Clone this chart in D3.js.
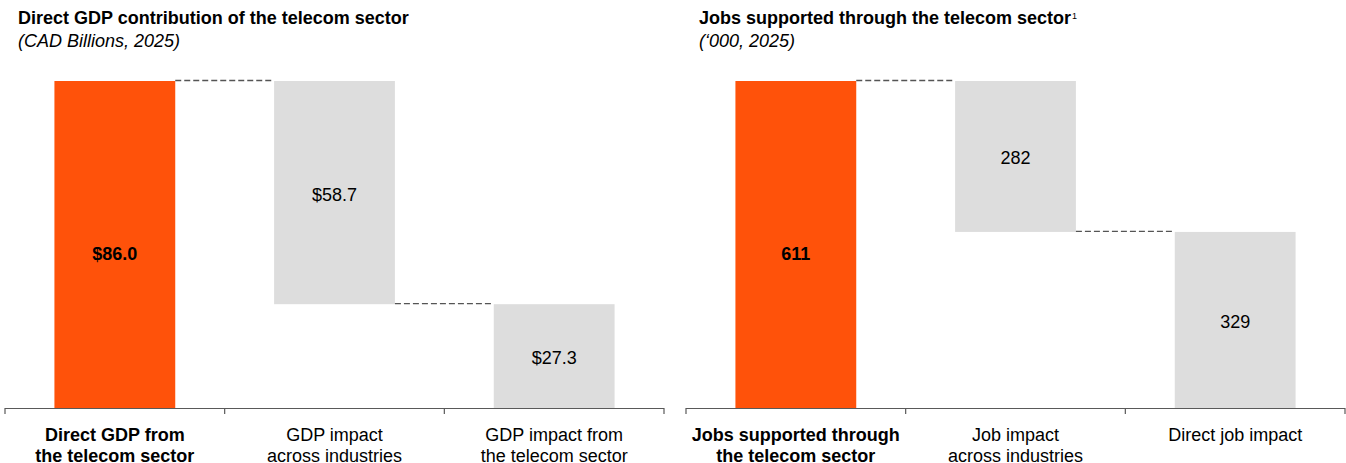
<!DOCTYPE html>
<html><head><meta charset="utf-8">
<script src="https://cdn.jsdelivr.net/npm/d3@7"></script>
<style>
body{margin:0;background:#fff;}
svg{font-family:"Liberation Sans",Arial,sans-serif;}
</style></head>
<body><svg id="c" width="1346" height="463"></svg>
<script>
const gdpCategories = [["Direct GDP from","the telecom sector"],["GDP impact","across industries"],["GDP impact from","the telecom sector"]];
const gdpValues = [86.0, 58.7, 27.3];
const gdpLabels = ["$86.0","$58.7","$27.3"];
const jobCategories = [["Jobs supported through","the telecom sector"],["Job impact","across industries"],["Direct job impact"]];
const jobValues = [611, 282, 329];
const jobLabels = ["611","282","329"];

const svg = d3.select("#c");
const ORANGE = "#ff520a", GRAY = "#dddddd";

function drawChart(x0, x1, title, sup, subtitle, cats, vals, labels){
  const g = svg.append("g");
  const t = g.append("text").attr("x", x0+13).attr("y", 24).attr("font-size", 18).attr("font-weight","bold").attr("fill","#000").text(title);
  if (sup) t.append("tspan").attr("font-size", 9).attr("dx",1).attr("dy",-5).attr("font-weight","normal").text(sup);
  g.append("text").attr("x", x0+13).attr("y", 47).attr("font-size", 18).attr("font-style","italic").attr("fill","#000").text(subtitle);

  const total = vals[0];
  const x = d3.scaleBand().domain(d3.range(vals.length)).range([x0, x1]).paddingInner(0.45).paddingOuter(0.225);
  const y = d3.scaleLinear().domain([0, total]).range([408, 81]);
  const segs = [];
  let run = total;
  vals.forEach((v,i)=>{
    if(i===0){ segs.push({i, lo:0, hi:v}); }
    else { segs.push({i, lo:run-v, hi:run}); run -= v; }
  });
  g.selectAll("rect.bar").data(segs).join("rect")
    .attr("x", d=>x(d.i)).attr("width", x.bandwidth())
    .attr("y", d=>y(d.hi)).attr("height", d=>y(d.lo)-y(d.hi))
    .attr("fill", d=>d.i===0?ORANGE:GRAY);
  for(let i=0;i<segs.length-1;i++){
    const lvl = segs[i].lo===0 ? segs[i].hi : segs[i].lo;
    g.append("line").attr("x1", x(i)+x.bandwidth()).attr("x2", x(i+1))
      .attr("y1", y(lvl)-0.5).attr("y2", y(lvl)-0.5)
      .attr("stroke","#555").attr("stroke-width",1.3).attr("stroke-dasharray","6,3");
  }
  g.selectAll("text.val").data(segs).join("text")
    .attr("x", d=>x(d.i)+x.bandwidth()/2).attr("y", d=>(y(d.hi)+y(d.lo))/2+(d.i===0?15:8))
    .attr("text-anchor","middle").attr("font-size",18)
    .attr("font-weight", d=>d.i===0?"bold":"normal").attr("fill","#000")
    .text(d=>labels[d.i]);
  const xa = d3.scaleLinear().domain([0, vals.length]).range([x0, x1]);
  g.append("line").attr("x1",x0).attr("x2",x1).attr("y1",408.5).attr("y2",408.5).attr("stroke","#595959").attr("stroke-width",1.2);
  d3.range(vals.length+1).forEach(k=>{
    g.append("line").attr("x1",xa(k)).attr("x2",xa(k)).attr("y1",408).attr("y2",414).attr("stroke","#595959").attr("stroke-width",1.2);
  });
  cats.forEach((c,i)=>{
    const tx = g.append("text").attr("x", x(i)+x.bandwidth()/2).attr("y", 441)
      .attr("text-anchor","middle").attr("font-size",18).attr("fill","#000")
      .attr("font-weight", i===0?"bold":"normal");
    c.forEach((line,j)=>tx.append("tspan").attr("x", x(i)+x.bandwidth()/2).attr("dy", j===0?0:21).text(line));
  });
}
drawChart(5, 664, "Direct GDP contribution  of the telecom sector", null, "(CAD Billions, 2025)", gdpCategories, gdpValues, gdpLabels);
drawChart(686, 1345, "Jobs supported through the telecom sector", "1", "(\u2018000, 2025)", jobCategories, jobValues, jobLabels);
</script></body></html>
